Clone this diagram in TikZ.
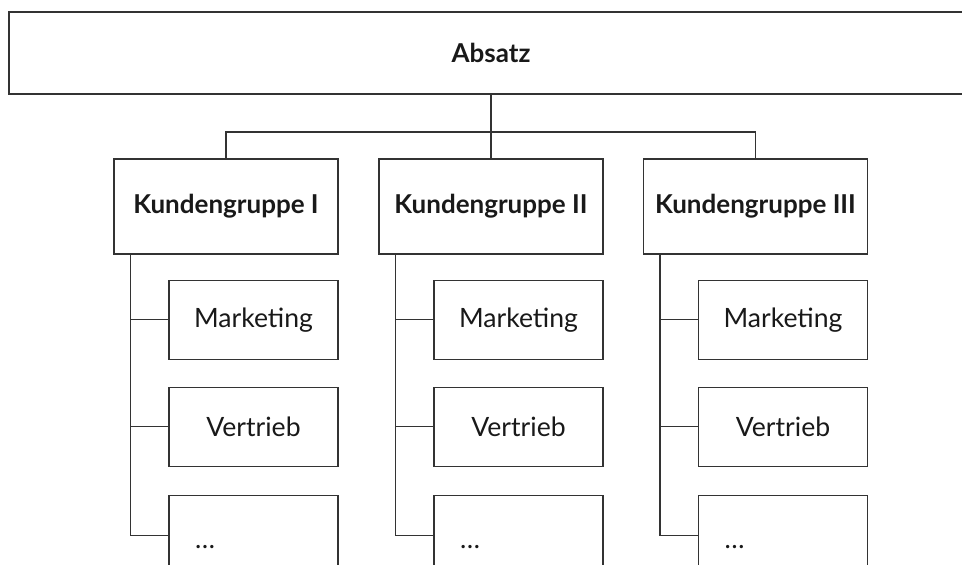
\documentclass[tikz,border=0pt]{standalone}
\usepackage{fontspec}
\setmainfont{Lato}
\usetikzlibrary{positioning}

\tikzset{
  box/.style={draw=black!80, line width=0.6pt, rectangle, inner sep=0pt, text=black!90},
  headbox/.style={box, minimum width=482pt, minimum height=41pt, font=\fontsize{13}{15}\selectfont\bfseries},
  groupbox/.style={box, minimum width=112pt, minimum height=47.5pt, font=\fontsize{13}{15}\selectfont\bfseries},
  unitbox/.style={box, minimum width=84.5pt, minimum height=39.5pt, font=\fontsize{13.3}{15}\selectfont},
  link/.style={draw=black!80, line width=0.6pt}
}

\begin{document}
\begin{tikzpicture}[x=0.5pt, y=-0.5pt]
\clip (0,0) rectangle (962,565);
% top level
\node[headbox] (absatz) at (491,53) {Absatz};
% customer groups
\node[groupbox] (kg1) at (226,206.5) {Kundengruppe I};
\node[groupbox] (kg2) at (491,206.5) {Kundengruppe II};
\node[groupbox] (kg3) at (755.5,206.5) {Kundengruppe III};
\coordinate (bus) at (491,132);
\draw[link] (absatz.south) -- (kg2.north);
\draw[link] (kg1.north) |- (bus) -| (kg3.north);
% units below each group
\foreach \i in {1,2,3} {
  \node[unitbox, below left=12.5pt and 0pt of kg\i.south east] (mk\i) {Marketing};
  \node[unitbox, below=13.5pt of mk\i] (vt\i) {Vertrieb};
  \node[unitbox, below=14pt of vt\i, align=left, text width=58.5pt, inner xsep=13pt,
        text height=13pt, text depth=0pt] (etc\i) {…};
  \coordinate[right=8.5pt of kg\i.south west] (lane\i);
  \draw[link] (lane\i) |- (etc\i.west);
  \draw[link] (mk\i.west) -- (mk\i.west -| lane\i);
  \draw[link] (vt\i.west) -- (vt\i.west -| lane\i);
}
\end{tikzpicture}
\end{document}
